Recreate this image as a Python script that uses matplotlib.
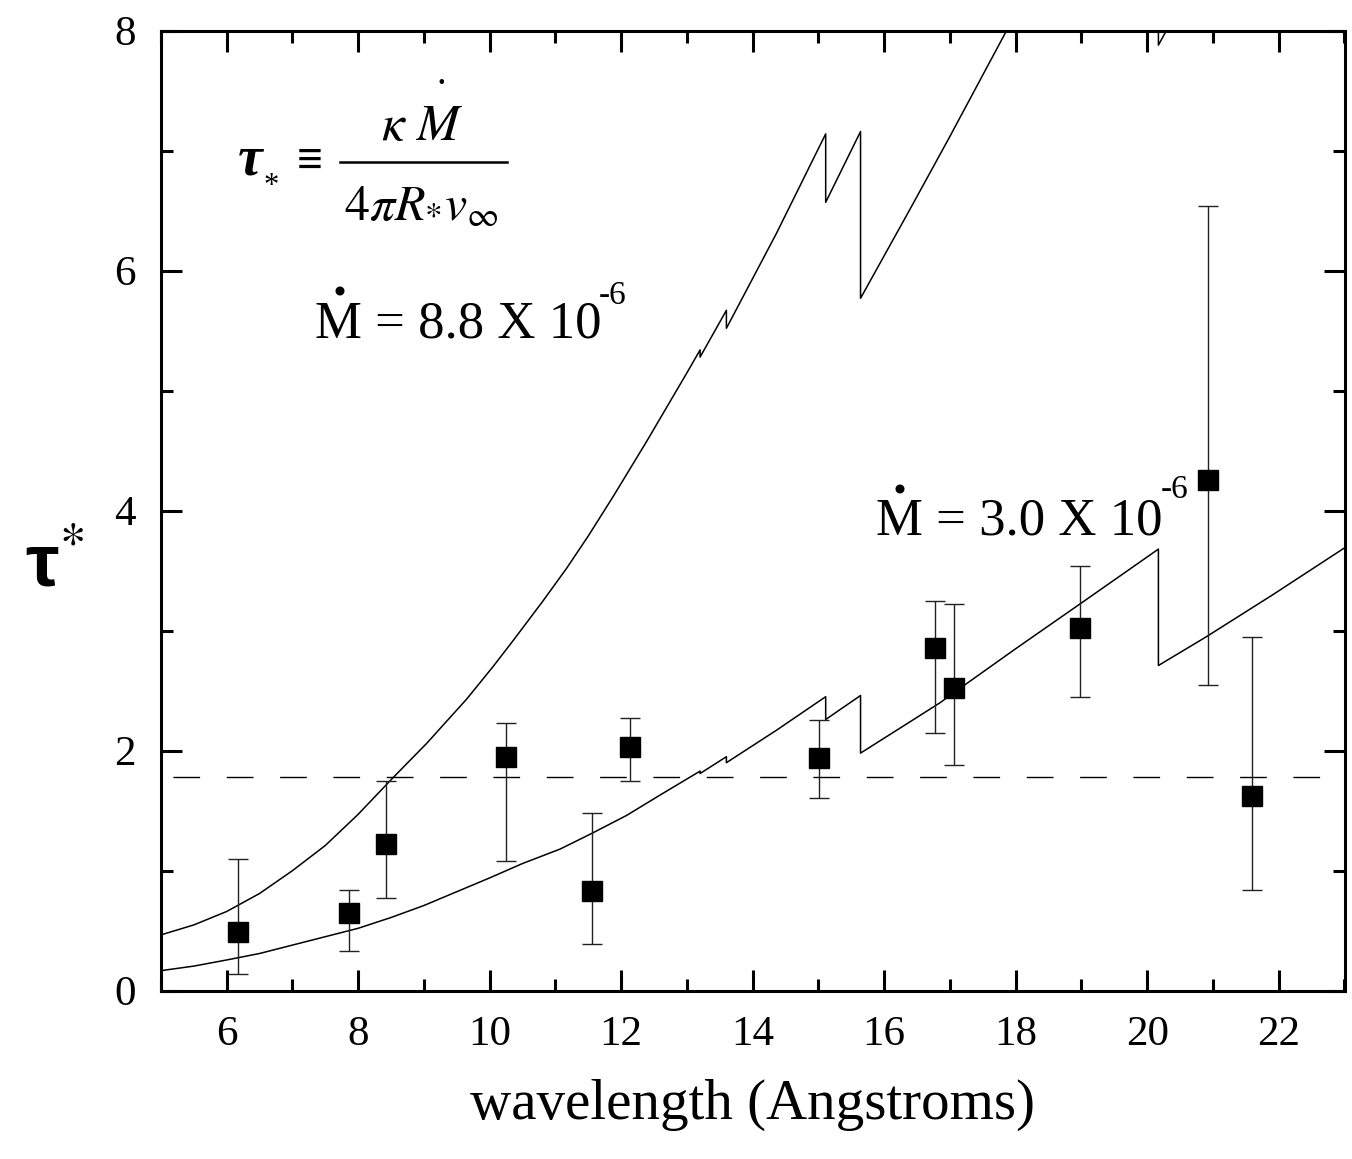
import matplotlib
matplotlib.use("Agg")
import matplotlib.pyplot as plt
from matplotlib.ticker import MultipleLocator

plt.rcParams["font.family"] = ["Liberation Serif", "DejaVu Serif"]
plt.rcParams["mathtext.fontset"] = "stix"

# Measured optical depths tau_* and their error ranges
wavelength = [6.18, 7.86, 8.42, 10.25, 11.55, 12.13, 15.01, 16.77, 17.06, 18.97, 20.92, 21.60]
tau_obs = [0.49, 0.65, 1.22, 1.95, 0.83, 2.03, 1.94, 2.86, 2.52, 3.02, 4.26, 1.62]
tau_hi = [1.10, 0.84, 1.75, 2.23, 1.48, 2.27, 2.26, 3.25, 3.22, 3.54, 6.54, 2.95]
tau_lo = [0.14, 0.33, 0.77, 1.08, 0.39, 1.75, 1.61, 2.15, 1.88, 2.45, 2.55, 0.84]

# Model tau_* for Mdot = 3.0e-6 (repeated wavelengths mark absorption edges)
model_low_wave = [5.0, 5.5, 6.0, 6.5, 7.0, 7.5, 8.0, 8.5, 9.0, 9.5, 10.0, 10.5, 11.07, 11.55,
                  12.08, 12.59, 13.2, 13.2, 13.6, 13.6, 14.36, 15.11, 15.11, 15.64, 15.64,
                  16.39, 16.85, 17.05, 18.0, 18.97, 20.17, 20.17, 20.9, 21.91, 23.0]
model_low_tau = [0.167, 0.205, 0.256, 0.31, 0.38, 0.45, 0.52, 0.61, 0.71, 0.825, 0.94, 1.06,
                 1.18, 1.31, 1.46, 1.63, 1.83, 1.81, 1.95, 1.90, 2.17, 2.45, 2.26, 2.46, 1.98,
                 2.24, 2.40, 2.48, 2.85, 3.22, 3.68, 2.71, 2.95, 3.30, 3.69]

# Model tau_* for Mdot = 8.8e-6
model_high_wave = [5.0, 5.5, 6.0, 6.5, 7.0, 7.5, 8.0, 8.53, 9.04, 9.65, 10.05, 10.36, 10.8,
                   11.17, 11.5, 11.88, 12.39, 12.99, 13.2, 13.2, 13.6, 13.6, 14.36, 15.11,
                   15.11, 15.64, 15.64, 16.39, 17.0, 17.86, 18.97, 20.17, 20.17, 20.32, 23.0]
model_high_tau = [0.465, 0.548, 0.66, 0.81, 1.0, 1.21, 1.47, 1.775, 2.06, 2.43, 2.70, 2.92, 3.24,
                  3.52, 3.79, 4.12, 4.58, 5.14, 5.34, 5.28, 5.67, 5.52, 6.31, 7.14,
                  6.57, 7.16, 5.77, 6.51, 7.12, 8.0, 9.4, 10.8, 7.88, 8.03, 10.8]

# Mean value across all lines
tau_mean = 1.78

W, H = 1352, 1159
fig = plt.figure(figsize=(W / 100, H / 100), dpi=100)
ax = fig.add_axes([160.9 / W, 1 - 990.7 / H, (1344.5 - 160.9) / W, (990.7 - 30.7) / H])

ax.plot(model_low_wave, model_low_tau, color="black", lw=1.1)
ax.plot(model_high_wave, model_high_tau, color="black", lw=1.1)
ax.axhline(tau_mean, color="black", lw=1.0, linestyle=(29.8, (19.2, 19.2)))

yerr = [[t - lo for t, lo in zip(tau_obs, tau_lo)],
        [hi - t for t, hi in zip(tau_obs, tau_hi)]]
ax.errorbar(wavelength, tau_obs, yerr=yerr, fmt="s", ms=14, mfc="black", mec="black",
            ecolor="#222222", elinewidth=1.0, capsize=7.2, capthick=1.0)

ax.set_xlim(5, 23)
ax.set_ylim(0, 8)
ax.xaxis.set_major_locator(MultipleLocator(2))
ax.xaxis.set_minor_locator(MultipleLocator(1))
ax.yaxis.set_major_locator(MultipleLocator(2))
ax.yaxis.set_minor_locator(MultipleLocator(1))
ax.tick_params(which="both", direction="in", top=True, right=True, width=2.2)
ax.tick_params(which="major", length=15, labelsize=31, pad=18)
ax.tick_params(which="minor", length=8.5)
for s in ax.spines.values():
    s.set_linewidth(2.2)

ax.set_xlabel("wavelength (Angstroms)", fontsize=41, labelpad=18)
ax.set_ylabel("τ$^{*}$", fontsize=54, fontweight="bold", rotation=0,
              family=["Liberation Sans", "DejaVu Sans"])
ax.yaxis.set_label_coords(-0.09, 0.405)

# Definition of tau_*
ax.text(6.17, 6.80, "τ", fontsize=40, fontweight="bold", style="italic", va="baseline")
ax.text(6.67, 6.64, "*", fontsize=22, ha="center", va="baseline")
ax.text(7.27, 6.90, "≡", fontsize=33, fontweight="bold", ha="center", va="center")
ax.text(8.97, 7.09, r"$\kappa\ M$", fontsize=37, ha="center", va="baseline")
ax.text(9.26, 7.56, ".", fontsize=28, ha="center", va="baseline")
ax.plot([7.72, 10.26], [6.91, 6.91], color="black", lw=1.8)
ax.text(8.96, 6.42, r"$4\pi R_{*} v_{\infty}$", fontsize=36, ha="center", va="baseline")

# Mass-loss rate labels
ax.text(7.35, 5.44, "M = 8.8 X 10", fontsize=38, va="baseline")
ax.text(7.71, 5.79, ".", fontsize=40, fontweight="bold", ha="center", va="baseline")
ax.text(11.66, 5.72, "-6", fontsize=24, va="baseline")

ax.text(15.88, 3.80, "M = 3.0 X 10", fontsize=38, va="baseline")
ax.text(16.24, 4.14, ".", fontsize=40, fontweight="bold", ha="center", va="baseline")
ax.text(20.2, 4.11, "-6", fontsize=24, va="baseline")

fig.savefig("out.png", dpi=100)
